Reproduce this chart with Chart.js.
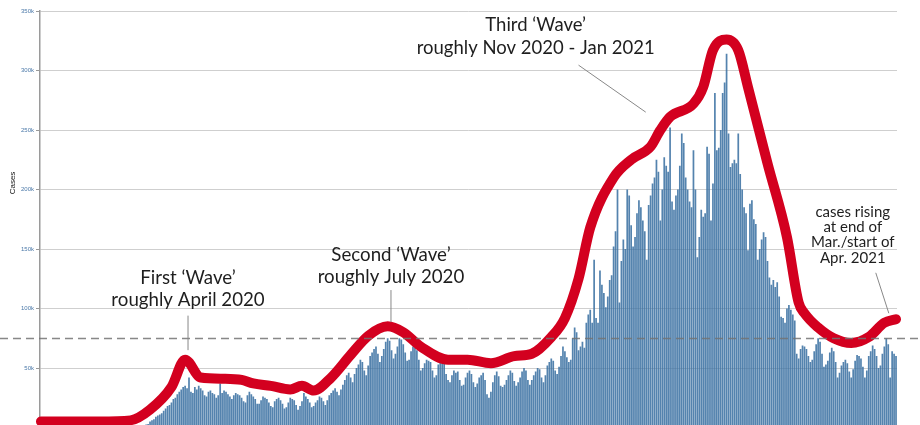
<!DOCTYPE html>
<html>
<head>
<meta charset="utf-8">
<script src="https://cdn.jsdelivr.net/npm/chart.js@4.4.1/dist/chart.umd.min.js"></script>
<style>
  html, body { margin: 0; padding: 0; background: #fff; overflow: hidden; }
  #wrap { width: 920px; height: 440px; }
</style>
</head>
<body>
<div id="wrap"><canvas id="chart" width="920" height="440"></canvas></div>
<script>
"use strict";

// daily new cases, thousands, one bar per day from 22 Jan 2020
const casesWinter20 = [
  0,0,0,0,0,0,0, 0,0,0,0,0,0,0, 0,0,0,0,0,0,0, 0,0,0,0,0,0,0, 0,0,0,0,0,0,0,
  0,0,0,0,0,0,0, 0.1,0.1,0.1,0.2,0.3,0.4,0.5, 0.6,0.8,1,1.3,1.8,2.5,3,
];
const casesSpring20 = [
  5,6,7,9,10,11,12, 14,16,18,19,21,24,25, 28,30,32,34,35,33,42,
  30,29,34,32,35,33,31, 27,26,30,31,29,28,25, 27,37,29,31,30,28,26,
  24,27,29,28,27,25,22, 21,27,30,28,26,24,20, 20,23,26,25,24,21,18,
  17,22,24,25,23,20,16, 17,21,25,24,23,19,15, 18,22,29,26,24,21,17,
  18,21,23,26,25,22,19,
];
const casesSummer20 = [
  23,27,29,31,33,30,27, 32,36,40,44,46,42,38, 45,50,53,57,55,48,44,
  52,60,63,66,68,62,55, 60,66,72,75,73,65,58, 62,68,75,74,70,63,56,
  57,64,68,67,65,57,48, 50,54,57,56,55,48,42, 44,53,55,57,54,45,40,
  38,44,48,46,47,40,35, 36,42,46,48,45,38,34, 37,42,44,46,40,28,25,
  30,38,44,47,43,35,34, 36,40,44,48,46,39,35, 38,42,47,50,48,40,36,
  40,44,47,50,49,42,38, 44,52,55,58,56,48,45,
];
const casesFall20 = [
  51,60,68,64,59,55,57, 75,84,80,65,68,72,67, 88,95,99,88,141,92,88,
  132,120,113,101,110,124,128, 152,165,200,105,140,158,150,
  200,195,170,152,160,180,191, 185,174,165,141,187,195,205,
  210,225,215,174,200,227,220, 215,252,190,183,195,200,220,
  247,239,210,200,190,185,233, 200,143,160,183,177,180,236,
];
const casesWinter21 = [
  230,174,205,281,233,235,250, 281,290,314,247,219,222,225,
  222,247,213,200,185,180,149, 188,191,175,171,141,150,158,
  164,160,140,126,120,124,118, 122,110,93,92,88,100,103,
  99,95,90,62,58,66,69, 68,66,60,55,57,64,70,
  75,72,62,51,53,56,63, 67,64,55,42,46,52,55,
  57,54,47,42,49,56,61, 60,58,51,42,48,60,64,
  69,66,60,50,52,62,68, 75,70,42,64,62,60,
];
const dailyCases = [].concat(casesWinter20, casesSpring20, casesSummer20, casesFall20, casesWinter21);

const START_DATE = Date.UTC(2020, 0, 22);
const dayLabels = dailyCases.map((_, i) => new Date(START_DATE + i * 86400000).toISOString().slice(0, 10));

// hand-drawn trend line (day index, thousands)
const trendDays  = [0, 30, 46, 56, 67, 74, 82, 94, 103, 109, 118, 128, 134, 140, 149, 159, 168, 178, 186,
  195, 209, 219, 231, 243, 252, 262, 269, 276, 282, 294, 303, 313, 318, 323, 335, 340, 345, 352, 358,
  363, 373, 383, 389, 392, 399, 407, 416, 425, 433, 439];
const trendCases = [5, 5, 6, 15, 34, 57, 42, 41, 40, 37, 35, 32, 35, 31, 42, 61, 77, 85, 80,
  68, 57, 57, 54, 60, 62, 76, 92, 125, 168, 210, 225, 236, 250, 261, 272, 286, 317, 326, 317,
  286, 222, 160, 105, 96, 84, 75, 71, 76, 88, 91];

const yTicks = [50, 100, 150, 200, 250, 300, 350];
const REF_LEVEL = 75;

const notes = [
  { lines: ["First \u2018Wave\u2019", "roughly April 2020"], day: 75.5, at: [125.5, 107], size: 18.7,
    lead: [[75.5, 94], [75.5, 65]] },
  { lines: ["Second \u2018Wave\u2019", "roughly July 2020"], day: 179.7, at: [145, 126.5], size: 18.7,
    lead: [[179.7, 115.5], [179.7, 88.5]] },
  { lines: ["Third \u2018Wave\u2019", "roughly Nov 2020 - Jan 2021"], day: 254, at: [338, 319], size: 18.5,
    lead: [[276, 304.5], [310.5, 265]] },
  { lines: ["cases rising", "at end of", "Mar./start of", "Apr. 2021"], day: 416.8, at: [181, 168.5, 156, 142.5], size: 15,
    lead: [[428.6, 130], [435.3, 96]] },
];

const overlay = {
  id: "overlay",
  afterDatasetsDraw(chart) {
    const { ctx, scales: { x, y } } = chart;
    ctx.save();
    // reference level, runs the full width of the canvas
    const ry = Math.round(y.getPixelForValue(REF_LEVEL)) + 0.5;
    ctx.strokeStyle = "rgba(115,115,115,0.85)";
    ctx.lineWidth = 1.5;
    ctx.setLineDash([8, 5]);
    ctx.beginPath();
    ctx.moveTo(0, ry);
    ctx.lineTo(chart.width, ry);
    ctx.stroke();
    ctx.setLineDash([]);

    ctx.strokeStyle = "#888";
    ctx.lineWidth = 1;
    ctx.fillStyle = "#1e1e1e";
    ctx.textAlign = "center";
    ctx.textBaseline = "middle";
    notes.forEach((n) => {
      ctx.beginPath();
      ctx.moveTo(x.getPixelForValue(n.lead[0][0]), y.getPixelForValue(n.lead[0][1]));
      ctx.lineTo(x.getPixelForValue(n.lead[1][0]), y.getPixelForValue(n.lead[1][1]));
      ctx.stroke();
      ctx.font = `${n.size}px Lato`;
      n.lines.forEach((t, k) => ctx.fillText(t, x.getPixelForValue(n.day), y.getPixelForValue(n.at[k])));
    });

    ctx.translate(13, 183);
    ctx.rotate(-Math.PI / 2);
    ctx.font = "8px 'Liberation Sans'";
    ctx.fillStyle = "#111";
    ctx.fillText("Cases", 0, 0);
    ctx.restore();
  },
};

new Chart(document.getElementById("chart"), {
  data: {
    labels: dayLabels,
    datasets: [
      {
        type: "line",
        data: trendDays.map((d, k) => ({ x: dayLabels[d], y: trendCases[k] })),
        borderColor: "#d3001f",
        borderWidth: 10,
        borderCapStyle: "round",
        borderJoinStyle: "round",
        cubicInterpolationMode: "monotone",
        pointRadius: 0,
        clip: false,
        order: 0,
      },
      {
        type: "bar",
        data: dailyCases,
        backgroundColor: "rgba(60,114,163,0.88)",
        barPercentage: 0.88,
        categoryPercentage: 1,
        order: 1,
      },
    ],
  },
  options: {
    responsive: false,
    animation: false,
    layout: { padding: { top: 11, right: 23, bottom: 12.5, left: 0 } },
    plugins: { legend: { display: false }, tooltip: { enabled: false } },
    scales: {
      x: { display: false },
      y: {
        min: 0,
        max: 350,
        afterFit: (s) => { s.width = 40; },
        afterBuildTicks: (s) => { s.ticks = yTicks.map((v) => ({ value: v })); },
        ticks: {
          color: "#4a78a8",
          font: { size: 6, family: "'Liberation Sans'" },
          padding: 2,
          callback: (v) => v + "k",
        },
        grid: { color: "#cfcfcf", tickColor: "#999", tickLength: 4, lineWidth: 1 },
        border: { color: "#9a9a9a", width: 1.5 },
      },
    },
  },
  plugins: [overlay],
});
</script>
</body>
</html>
